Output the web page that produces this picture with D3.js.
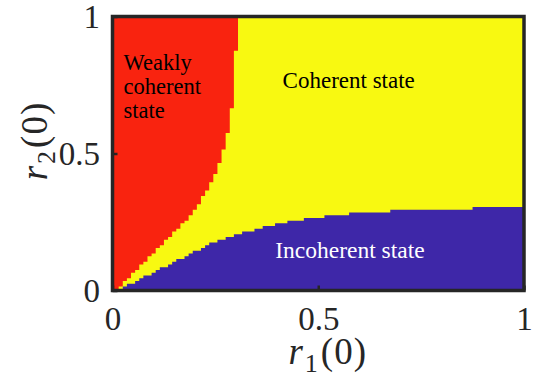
<!DOCTYPE html>
<html>
<head>
<meta charset="utf-8">
<script src="https://cdn.jsdelivr.net/npm/d3@7"></script>
<style>
body { margin: 0; background: #fff; }
text { font-family: "Liberation Serif", "Times New Roman", serif; }
</style>
</head>
<body>
<svg id="chart" width="541" height="381"></svg>
<script>
// tick values on both axes
const xTicks = [0, 0.5, 1]
const yTicks = [0, 0.5, 1]

// red (weakly coherent) region: step left edge in r1(0), lower edge in r2(0)
const redR1 = [0.000, 0.005, 0.015, 0.025, 0.035, 0.045, 0.055, 0.065, 0.075, 0.085,
	0.095, 0.105, 0.115, 0.125, 0.135, 0.145, 0.155, 0.165, 0.175, 0.185,
	0.195, 0.205, 0.215, 0.225, 0.235, 0.245, 0.255, 0.265, 0.275, 0.285,
	0.295, 0.305]
const redR2 = [0.005, 0.005, 0.015, 0.035, 0.045, 0.065, 0.075, 0.095, 0.105, 0.125,
	0.135, 0.155, 0.165, 0.185, 0.195, 0.215, 0.225, 0.245, 0.255, 0.275,
	0.295, 0.315, 0.345, 0.365, 0.395, 0.425, 0.465, 0.515, 0.575, 0.665,
	0.875, 0.875]

// blue (incoherent) region: step left edge in r1(0), upper edge in r2(0)
const blueR1 = [0.000, 0.005, 0.015, 0.025, 0.035, 0.045, 0.055, 0.065, 0.075, 0.085,
	0.095, 0.105, 0.115, 0.125, 0.135, 0.145, 0.155, 0.165, 0.175, 0.185,
	0.195, 0.205, 0.215, 0.225, 0.235, 0.245, 0.255, 0.275, 0.295, 0.315,
	0.345, 0.365, 0.395, 0.425, 0.465, 0.515, 0.575, 0.675, 0.875, 1.000]
const blueR2 = [0.000, 0.005, 0.005, 0.015, 0.025, 0.025, 0.035, 0.045, 0.055, 0.055,
	0.065, 0.075, 0.085, 0.085, 0.095, 0.105, 0.115, 0.115, 0.125, 0.135,
	0.145, 0.145, 0.155, 0.165, 0.175, 0.175, 0.185, 0.195, 0.205, 0.215,
	0.225, 0.235, 0.245, 0.255, 0.265, 0.275, 0.285, 0.295, 0.305, 0.305]

const weakLines = ["Weakly", "coherent", "state"]
const coherentLabel = "Coherent state"
const incoherentLabel = "Incoherent state"

const margin = {top: 16.5, right: 17, bottom: 90.5, left: 112.5}
const width = 541 - margin.left - margin.right
const height = 381 - margin.top - margin.bottom

const svg = d3.select("#chart")
const g = svg.append("g")
	.attr("transform", "translate(" + margin.left + "," + margin.top + ")")

const x = d3.scaleLinear().domain([0, 1]).range([0, width])
const y = d3.scaleLinear().domain([0, 1]).range([height, 0])

// yellow everywhere, the other two regions laid on top
g.append("rect")
	.attr("x", x(0)).attr("y", y(1))
	.attr("width", x(1) - x(0)).attr("height", y(0) - y(1))
	.attr("fill", "#f8f911")

const redArea = d3.area()
	.x(d => x(d[0]))
	.y0(y(1))
	.y1(d => y(d[1]))
	.curve(d3.curveStepAfter)
g.append("path")
	.datum(d3.zip(redR1, redR2))
	.attr("fill", "#f9230f")
	.attr("d", redArea)

const blueArea = d3.area()
	.x(d => x(d[0]))
	.y0(y(0))
	.y1(d => y(d[1]))
	.curve(d3.curveStepAfter)
g.append("path")
	.datum(d3.zip(blueR1, blueR2))
	.attr("fill", "#3e27a8")
	.attr("d", blueArea)

// region labels
const weak = g.append("text")
	.attr("font-size", 22.5)
	.attr("fill", "#000")
weak.selectAll("tspan")
	.data(weakLines)
	.enter().append("tspan")
	.attr("x", x(0.027))
	.attr("y", (d, i) => y(0.805) + i * 24)
	.text(d => d)

g.append("text")
	.attr("x", x(0.574))
	.attr("y", y(0.74))
	.attr("text-anchor", "middle")
	.attr("font-size", 23)
	.attr("fill", "#000")
	.text(coherentLabel)

g.append("text")
	.attr("x", x(0.577))
	.attr("y", y(0.12))
	.attr("text-anchor", "middle")
	.attr("font-size", 23.5)
	.attr("fill", "#fff")
	.text(incoherentLabel)

// axes, ticks pointing inward
const xAxis = g.append("g")
	.attr("transform", "translate(0," + height + ")")
	.call(d3.axisBottom(x).tickValues(xTicks).tickSize(-5).tickFormat(d3.format("")))
const yAxis = g.append("g")
	.call(d3.axisLeft(y).tickValues(yTicks).tickSize(-5).tickFormat(d3.format("")))

for (const ax of [xAxis, yAxis]) {
	ax.select(".domain").remove()
	ax.selectAll(".tick line").attr("stroke", "#262626").attr("stroke-width", 2.5)
	ax.selectAll(".tick text")
		.attr("fill", "#262626")
		.attr("font-size", 33)
		.attr("font-family", "Liberation Serif, serif")
}
xAxis.selectAll(".tick text").attr("y", 16.5)
yAxis.selectAll(".tick text").attr("x", -12.5)

// box
g.append("rect")
	.attr("x", x(0)).attr("y", y(1))
	.attr("width", x(1) - x(0)).attr("height", y(0) - y(1))
	.attr("fill", "none")
	.attr("stroke", "#262626")
	.attr("stroke-width", 3.5)

// axis labels
function axisLabel(sel, sub) {
	sel.append("tspan").attr("font-style", "italic").text("r")
	sel.append("tspan").attr("font-size", 26).attr("dx", 1).attr("dy", 8).text(sub)
	sel.append("tspan").attr("dx", 2).attr("dy", -8).text("(0)")
}

const xLabel = svg.append("text")
	.attr("x", margin.left + x(0.523))
	.attr("y", 364)
	.attr("text-anchor", "middle")
	.attr("font-size", 37)
	.attr("letter-spacing", 1)
	.attr("fill", "#262626")
axisLabel(xLabel, "1")

const yLabel = svg.append("text")
	.attr("transform", "translate(47,141) rotate(-90)")
	.attr("text-anchor", "middle")
	.attr("font-size", 37)
	.attr("letter-spacing", 1)
	.attr("fill", "#262626")
axisLabel(yLabel, "2")
</script>
</body>
</html>
